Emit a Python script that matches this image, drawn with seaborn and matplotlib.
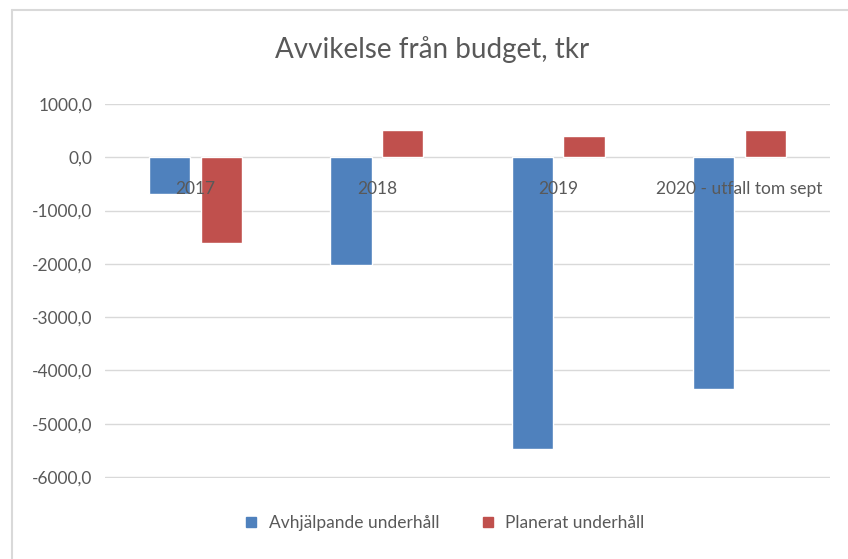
import pandas as pd
import matplotlib.pyplot as plt
import matplotlib.lines as mlines
import seaborn as sns

# data (tkr)
years = ['2017', '2018', '2019', '2020 - utfall tom sept']
avhjalpande = [-690, -2030, -5475, -4350]
planerat = [-1600, 505, 390, 505]
series = ['Avhjälpande underhåll', 'Planerat underhåll']

df = pd.DataFrame({
    'year': years * 2,
    'value': avhjalpande + planerat,
    'serie': [series[0]] * 4 + [series[1]] * 4,
})

sns.set_style('white')
plt.rcParams['font.family'] = ['Lato', 'DejaVu Sans']

fig = plt.figure(figsize=(8.48, 5.59), dpi=100)
ax = fig.add_axes([105 / 848, 1 - 478 / 559, 725 / 848, 374 / 559])

g = sns.barplot(data=df, x='year', y='value', hue='serie', order=years,
                hue_order=series, palette=['#4F81BD', '#C0504D'],
                width=0.57, gap=0.2, saturation=1, ax=ax, legend=False)

ax.set_ylim(-6020, 1000)
ax.set_xlim(-0.5, 3.5)
ax.set_yticks(range(-6000, 1001, 1000))
ax.set_yticklabels([f'{v:.1f}'.replace('.', ',') for v in range(-6000, 1001, 1000)])
ax.yaxis.grid(True, color='#D9D9D9', lw=1)
ax.set_axisbelow(True)
ax.xaxis.set_zorder(5)   # category labels sit on top of the bars
for s in ['top', 'right', 'left']:
    ax.spines[s].set_visible(False)
ax.spines['bottom'].set_position(('data', 0))
ax.spines['bottom'].set_visible(False)
ax.tick_params(axis='y', length=0, pad=9, labelsize=12.5, labelcolor='#595959')
ax.tick_params(axis='x', length=0, pad=17, labelsize=12.5, labelcolor='#595959')
ax.set_xlabel('')
ax.set_ylabel('')

fig.text(432 / 848, 1 - 50 / 559, 'Avvikelse från budget, tkr', ha='center',
         va='center', fontsize=20, color='#595959')

handles = [mlines.Line2D([], [], marker='s', ls='', color=c, markersize=7)
           for c in ['#4F81BD', '#C0504D']]
fig.legend(handles, series, loc='center', bbox_to_anchor=(439 / 848, 1 - 523 / 559),
           ncol=2, frameon=False, fontsize=12.5, labelcolor='#595959',
           handletextpad=0.0, columnspacing=1.8)

# light outer chart frame (left and top edge visible)
fig.add_artist(mlines.Line2D([12 / 848, 12 / 848], [0, 1 - 10 / 559],
                             color='#D9D9D9', lw=1.5, transform=fig.transFigure))
fig.add_artist(mlines.Line2D([12 / 848, 1], [1 - 10 / 559, 1 - 10 / 559],
                             color='#D9D9D9', lw=1.5, transform=fig.transFigure))

plt.savefig('out.png', dpi=100)
